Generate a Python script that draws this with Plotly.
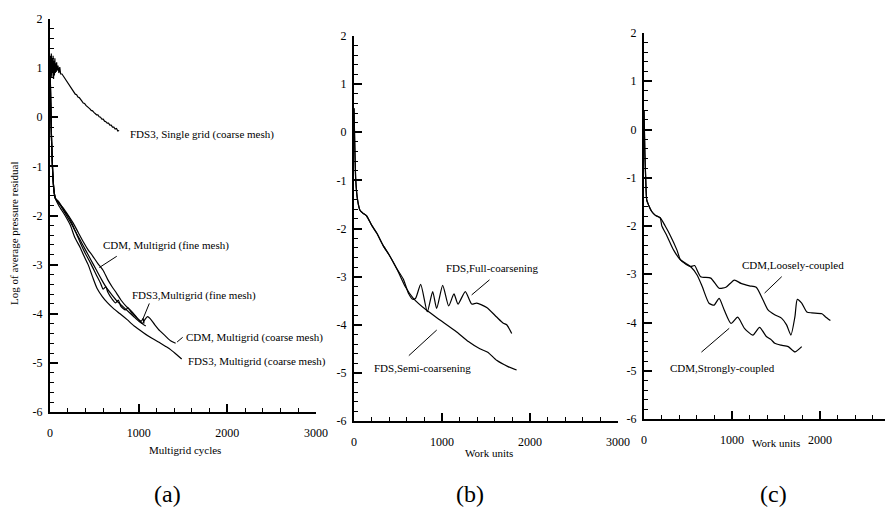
import plotly.graph_objects as go

# ---------------- data ----------------
# Panel (a): multigrid cycles vs log residual
sg_x = [0, 5, 10, 15, 20, 25, 30, 35, 40, 45,
        50, 55, 60, 65, 70, 75, 80, 90, 100, 110,
        120, 135, 150, 165, 180, 195, 210, 225, 240, 255,
        270, 285, 300, 315, 330, 345, 360, 375, 390, 405,
        420, 435, 450, 465, 480, 495, 510, 525, 540, 555,
        570, 585, 600, 615, 630, 645, 660, 675, 690, 705,
        720, 735, 750, 765, 780]
sg_y = [0.80, 1.25, 0.85, 1.30, 0.80, 1.20, 0.90, 1.25, 0.78, 1.15,
        0.85, 1.20, 0.90, 1.10, 0.92, 1.12, 0.95, 1.05, 0.90, 1.02,
        0.88, 0.88, 0.84, 0.80, 0.74, 0.72, 0.66, 0.64, 0.58, 0.55,
        0.52, 0.47, 0.46, 0.41, 0.40, 0.35, 0.33, 0.29, 0.28, 0.24,
        0.22, 0.19, 0.17, 0.14, 0.13, 0.10, 0.08, 0.05, 0.05, 0.01,
        0.00, -0.04, -0.04, -0.08, -0.09, -0.12, -0.12, -0.16, -0.16, -0.20,
        -0.20, -0.24, -0.23, -0.28, -0.27]

mg_start_x = [0, 8, 18, 30, 45, 60]
mg_start_y = [1.2, 0.3, -0.5, -1.1, -1.5, -1.65]

cdm_fine_x = [100, 150, 200, 260, 320, 380, 430, 480, 540, 600, 650, 700, 750, 800, 860, 920, 980, 1040, 1080]
cdm_fine_y = [-1.75, -1.85, -1.98, -2.15, -2.35, -2.55, -2.70, -2.82, -2.98, -3.12, -3.30, -3.45, -3.58, -3.72, -3.85, -3.95, -4.08, -4.20, -4.25]

cdm_coarse_x = [100, 160, 220, 280, 340, 400, 460, 520, 580, 640, 700, 760, 820, 880, 940, 1000, 1040, 1070, 1100, 1130, 1180, 1240, 1300, 1360, 1417]
cdm_coarse_y = [-1.72, -1.90, -2.05, -2.30, -2.50, -2.70, -2.90, -3.10, -3.30, -3.48, -3.62, -3.75, -3.85, -3.95, -4.05, -4.15, -4.20, -4.12, -4.06, -4.10, -4.22, -4.35, -4.45, -4.55, -4.60]

fds_fine_x = [100, 160, 220, 280, 340, 400, 460, 520, 570, 600, 630, 650, 700, 740, 770, 800, 850, 880, 920, 960, 1000, 1030, 1050, 1060]
fds_fine_y = [-1.75, -1.92, -2.10, -2.30, -2.55, -2.78, -2.98, -3.20, -3.38, -3.50, -3.45, -3.55, -3.70, -3.78, -3.72, -3.85, -3.92, -3.88, -3.98, -4.05, -4.12, -4.15, -4.10, -4.20]

fds_coarse_x = [100, 170, 230, 280, 340, 390, 430, 480, 530, 590, 650, 720, 790, 870, 950, 1050, 1150, 1230, 1300, 1360, 1420, 1485]
fds_coarse_y = [-1.80, -2.00, -2.20, -2.45, -2.65, -2.85, -3.00, -3.25, -3.48, -3.65, -3.78, -3.90, -4.00, -4.12, -4.25, -4.38, -4.50, -4.58, -4.66, -4.73, -4.82, -4.92]

# Panel (b): work units
b_start_x = [0, 8, 20, 40, 68, 100, 144, 200, 260, 330, 400, 485]
b_start_y = [0.5, -0.2, -1.0, -1.4, -1.62, -1.68, -1.74, -1.93, -2.10, -2.35, -2.55, -2.83]

semi_x = [580, 674, 826, 977, 1167, 1300, 1430, 1520, 1621, 1750, 1848]
semi_y = [-3.20, -3.45, -3.70, -3.90, -4.15, -4.35, -4.50, -4.57, -4.74, -4.87, -4.94]

full_x = [560, 620, 667, 700, 758, 833, 894, 939, 1008, 1076, 1136, 1182, 1265, 1337, 1394, 1508, 1621, 1697, 1735, 1792]
full_y = [-3.05, -3.35, -3.47, -3.45, -3.16, -3.73, -3.31, -3.66, -3.18, -3.61, -3.36, -3.57, -3.31, -3.57, -3.55, -3.64, -3.84, -3.97, -4.00, -4.18]

# Panel (c): work units
c_start_x = [0, 10, 20, 31, 60, 88, 130, 184]
c_start_y = [0.4, -0.5, -1.05, -1.46, -1.60, -1.70, -1.78, -1.83]

loose_x = [241, 300, 375, 414, 480, 529, 575, 644, 759, 854, 931, 1027, 1103, 1199, 1276, 1352, 1410, 1486, 1563, 1621, 1670, 1716, 1743, 1793, 1851, 1908, 2023, 2061, 2119]
loose_y = [-2.00, -2.20, -2.50, -2.70, -2.80, -2.84, -2.82, -3.05, -3.08, -3.29, -3.27, -3.12, -3.19, -3.24, -3.27, -3.53, -3.74, -3.84, -3.91, -4.05, -4.26, -3.88, -3.52, -3.60, -3.78, -3.80, -3.82, -3.88, -3.96]

strong_x = [203, 260, 337, 414, 480, 529, 605, 663, 739, 797, 854, 912, 989, 1065, 1142, 1238, 1314, 1391, 1448, 1486, 1560, 1640, 1716, 1793]
strong_y = [-2.00, -2.20, -2.50, -2.70, -2.78, -2.84, -3.02, -3.26, -3.60, -3.64, -3.50, -3.74, -4.02, -3.89, -4.12, -4.26, -4.10, -4.29, -4.36, -4.43, -4.47, -4.50, -4.61, -4.50]

y_ticks = [-6, -5, -4, -3, -2, -1, 0, 1, 2]
y_ticktext = ["-6", "-5", "-4", "-3", "-2", "-1", "0", "1", "2"]

# ---------------- figure ----------------
W, H = 885, 513
FONT = "Liberation Serif, Times New Roman, Tinos, DejaVu Serif, serif"
fig = go.Figure()

def line(x, y, ax, shape="spline"):
    fig.add_trace(go.Scatter(x=x, y=y, mode="lines", xaxis=ax[0], yaxis=ax[1],
                             line=dict(color="black", width=1.2, shape=shape, smoothing=0.6),
                             showlegend=False, hoverinfo="skip"))

A = ("x", "y"); B = ("x2", "y2"); C = ("x3", "y3")
line(sg_x, sg_y, A, "linear")
for xs, ys in [(cdm_fine_x, cdm_fine_y), (cdm_coarse_x, cdm_coarse_y),
               (fds_fine_x, fds_fine_y), (fds_coarse_x, fds_coarse_y)]:
    line(mg_start_x + xs, mg_start_y + ys, A)
line(b_start_x + semi_x, b_start_y + semi_y, B)
line(b_start_x + full_x, b_start_y + full_y, B)
line(c_start_x + loose_x, c_start_y + loose_y, C)
line(c_start_x + strong_x, c_start_y + strong_y, C)

# invisible traces so the tick overlay axes exist
for i in range(4, 10):
    fig.add_trace(go.Scatter(x=[None], y=[None], xaxis=f"x{i}", yaxis=f"y{i}",
                             mode="lines", showlegend=False, hoverinfo="skip"))

def px(v): return v / W
def py(v): return 1 - v / H

tickfont = dict(family=FONT, size=12, color="black")

def xax(dom, rng, ticks, anchor):
    return dict(domain=dom, range=rng, anchor=anchor, tickmode="array",
                tickvals=ticks, ticktext=[str(t) for t in ticks], ticks="",
                showline=True, linewidth=2, linecolor="black", showgrid=False, zeroline=False,
                automargin=False, ticklabelstandoff=9, tickfont=tickfont)

def yax(dom, anchor):
    return dict(domain=dom, range=[-6, 2], anchor=anchor, tickmode="array",
                tickvals=y_ticks, ticktext=y_ticktext, ticks="",
                showline=True, linewidth=2, linecolor="black", showgrid=False, zeroline=False,
                automargin=False, ticklabelstandoff=3, tickfont=tickfont)

def xtick(over, rng, anchor, dtick, tlen, tw):
    return dict(overlaying=over, range=rng, anchor=anchor, tickmode="linear", tick0=0, dtick=dtick,
                ticks="inside", ticklen=tlen, tickwidth=tw, tickcolor="black",
                showticklabels=False, showline=False, showgrid=False, zeroline=False, automargin=False)

def ytick(over, anchor, dtick, tlen, tw):
    return dict(overlaying=over, range=[-6, 2], anchor=anchor, tickmode="linear", tick0=0, dtick=dtick,
                ticks="inside", ticklen=tlen, tickwidth=tw, tickcolor="black",
                showticklabels=False, showline=False, showgrid=False, zeroline=False, automargin=False)

fig.update_layout(
    template="none",
    width=W, height=H, margin=dict(l=0, r=0, t=0, b=0, pad=0, autoexpand=False),
    paper_bgcolor="white", plot_bgcolor="rgba(0,0,0,0)",
    xaxis=xax([px(50), px(316)], [0, 3000], [0, 1000, 2000, 3000], "y"),
    yaxis=yax([py(412), py(19)], "x"),
    xaxis2=xax([px(354), px(618)], [0, 3000], [0, 1000, 2000, 3000], "y2"),
    yaxis2=yax([py(421), py(36)], "x2"),
    xaxis3=xax([px(644), 1.0], [0, 2740], [0, 1000, 2000], "y3"),
    yaxis3=yax([py(419), py(33)], "x3"),
    # minor ticks
    xaxis4=xtick("x", [0, 3000], "y4", 200, 4, 1), yaxis4=ytick("y", "x4", 0.2, 4, 1),
    xaxis5=xtick("x2", [0, 3000], "y5", 200, 4, 1), yaxis5=ytick("y2", "x5", 0.2, 4, 1),
    xaxis6=xtick("x3", [0, 2740], "y6", 200, 4, 1), yaxis6=ytick("y3", "x6", 0.2, 4, 1),
    # major ticks
    xaxis7=xtick("x", [0, 3000], "y7", 1000, 8, 1.5), yaxis7=ytick("y", "x7", 1, 8, 1.5),
    xaxis8=xtick("x2", [0, 3000], "y8", 1000, 8, 1.5), yaxis8=ytick("y2", "x8", 1, 8, 1.5),
    xaxis9=xtick("x3", [0, 2740], "y9", 1000, 8, 1.5), yaxis9=ytick("y3", "x9", 1, 8, 1.5),
)

ann = []
def text(t, x, y, size=11, xanchor="left", angle=0):
    ann.append(dict(text=t, x=px(x), y=py(y), xref="paper", yref="paper", showarrow=False,
                    xanchor=xanchor, yanchor="middle", textangle=angle,
                    font=dict(family=FONT, size=size, color="black")))

def pointer(x0, y0, x1, y1, xr, yr):
    ann.append(dict(text="", x=x1, y=y1, ax=x0, ay=y0, xref=xr, yref=yr, axref=xr, ayref=yr,
                    showarrow=True, arrowhead=0, arrowwidth=1, arrowcolor="black"))

# Panel (a)
text("FDS3, Single grid (coarse mesh)", 128, 135)
text("CDM, Multigrid (fine mesh)", 101, 245)
text("FDS3,Multigrid (fine mesh)", 130, 295)
text("CDM, Multigrid (coarse mesh)", 184, 337)
text("FDS3, Multigrid (coarse mesh)", 186, 361)
pointer(770, -2.81, 556, -3.06, "x", "y")
pointer(1127, -3.76, 1045, -4.12, "x", "y")
pointer(1417, -4.60, 1496, -4.48, "x", "y")
text("Multigrid cycles", 185, 450, xanchor="center")
text("Log of average pressure residual", 14, 233, xanchor="center", angle=-90)
text("(a)", 167, 494, size=24, xanchor="center")

# Panel (b)
text("FDS,Full-coarsening", 492, 268, xanchor="center")
text("FDS,Semi-coarsening", 422, 368, xanchor="center")
pointer(1557, -3.04, 1337, -3.38, "x2", "y2")
pointer(606, -4.67, 940, -4.11, "x2", "y2")
text("Work units", 489, 453, xanchor="center")
text("(b)", 470, 494, size=24, xanchor="center")

# Panel (c)
text("CDM,Loosely-coupled", 793, 265, xanchor="center")
text("CDM,Strongly-coupled", 722, 368, xanchor="center")
pointer(1583, -3.02, 1371, -3.39, "x3", "y3")
pointer(636, -4.64, 969, -4.12, "x3", "y3")
text("Work units", 776, 443, xanchor="center")
text("(c)", 773, 494, size=24, xanchor="center")

fig.update_layout(annotations=ann)
fig.write_html("out.html", config={"displayModeBar": False},
               post_script="document.body.style.margin='0px';document.body.style.overflow='hidden';")
